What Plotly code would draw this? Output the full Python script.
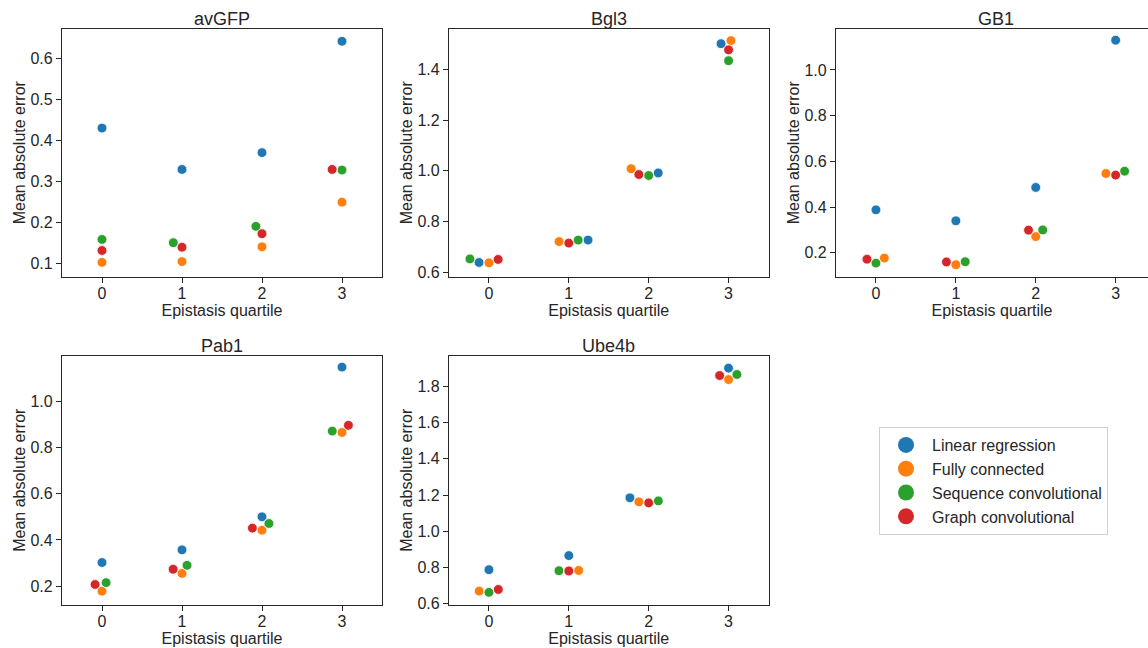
import numpy as np
import plotly.graph_objects as go

# Mean absolute error per epistasis quartile, for each protein dataset and model
quartiles = [0, 1, 2, 3]
models = ["Linear regression", "Fully connected", "Sequence convolutional", "Graph convolutional"]
colors = ["#1f77b4", "#ff7f0e", "#2ca02c", "#d62728"]

avgfp_lr = [0.430, 0.329, 0.370, 0.642]
avgfp_fc = [0.102, 0.104, 0.140, 0.249]
avgfp_sc = [0.158, 0.150, 0.190, 0.3275]
avgfp_gc = [0.131, 0.139, 0.172, 0.329]

bgl3_lr = [0.638, 0.7265, 0.991, 1.501]
bgl3_fc = [0.6366, 0.7204, 1.008, 1.513]
bgl3_sc = [0.652, 0.7263, 0.981, 1.434]
bgl3_gc = [0.650, 0.7145, 0.985, 1.477]

gb1_lr = [0.388, 0.340, 0.486, 1.130]
gb1_fc = [0.177, 0.148, 0.271, 0.547]
gb1_sc = [0.155, 0.161, 0.300, 0.557]
gb1_gc = [0.172, 0.160, 0.299, 0.540]

pab1_lr = [0.302, 0.357, 0.500, 1.148]
pab1_fc = [0.178, 0.255, 0.442, 0.865]
pab1_sc = [0.215, 0.290, 0.471, 0.871]
pab1_gc = [0.207, 0.273, 0.451, 0.896]

ube4b_lr = [0.788, 0.866, 1.185, 1.901]
ube4b_fc = [0.670, 0.784, 1.163, 1.838]
ube4b_sc = [0.663, 0.7825, 1.168, 1.866]
ube4b_gc = [0.679, 0.781, 1.157, 1.860]

panels = [
    ("avGFP", [avgfp_lr, avgfp_fc, avgfp_sc, avgfp_gc], [0.0675, 0.672], 0.1),
    ("Bgl3", [bgl3_lr, bgl3_fc, bgl3_sc, bgl3_gc], [0.5827, 1.559], 0.2),
    ("GB1", [gb1_lr, gb1_fc, gb1_sc, gb1_gc], [0.0964, 1.179], 0.2),
    ("Pab1", [pab1_lr, pab1_fc, pab1_sc, pab1_gc], [0.1204, 1.196], 0.2),
    ("Ube4b", [ube4b_lr, ube4b_fc, ube4b_sc, ube4b_gc], [0.596, 1.968], 0.2),
]

W, H = 1148, 648
# axes boxes in pixels: (left, right, top, bottom)
boxes = [
    (62, 382, 29, 276.5),
    (449, 768.5, 29, 276.5),
    (836, 1148, 29, 276.5),
    (62, 382, 356, 604.5),
    (449, 768.5, 356, 604.5),
]
xranges = [[-0.5, 3.5], [-0.5, 3.5], [-0.5, 3.405], [-0.5, 3.5], [-0.5, 3.5]]

MARKER_D = 9.4  # swarm collision diameter in pixels


def beeswarm(ys_px, d):
    """Seaborn-style beeswarm: returns horizontal pixel offsets."""
    n = len(ys_px)
    order = np.argsort(ys_px, kind="stable")
    placed = []  # list of (x, y)
    offs = np.zeros(n)
    for i in order:
        y = ys_px[i]
        neigh = [(px, py) for px, py in placed if abs(y - py) < d]
        cands = [0.0]
        left_first = True
        for px, py in neigh:
            dy = y - py
            dx = np.sqrt(max(d * d - dy * dy, 0)) * 1.05
            pair = [px - dx, px + dx] if left_first else [px + dx, px - dx]
            cands.extend(pair)
            left_first = not left_first
        cands = np.array(cands)
        cands = cands[np.argsort(np.abs(cands), kind="stable")]
        chosen = cands[-1]
        for c in cands:
            ok = all((c - px) ** 2 + (y - py) ** 2 >= d * d for px, py in neigh)
            if ok:
                chosen = c
                break
        offs[i] = chosen
        placed.append((chosen, y))
    return offs


fig = go.Figure()
font = "Liberation Sans, Arial, sans-serif"
ink = "#262626"
annotations = []

for k, (name, series, yr, dt) in enumerate(panels):
    left, right, top, bottom = boxes[k]
    xr = xranges[k]
    xs_scale = (right - left) / (xr[1] - xr[0])
    ys_scale = (bottom - top) / (yr[1] - yr[0])
    vals = np.array(series)  # shape (models, quartiles)
    xpos = np.zeros_like(vals, dtype=float)
    for q in range(len(quartiles)):
        offs = beeswarm(vals[:, q] * ys_scale, MARKER_D)
        xpos[:, q] = quartiles[q] + offs / xs_scale
    sfx = "" if k == 0 else str(k + 1)
    for m in range(len(models)):
        fig.add_trace(go.Scatter(
            x=xpos[m], y=vals[m], mode="markers",
            marker=dict(size=9.8, color=colors[m], line=dict(color="white", width=0.8)),
            xaxis="x" + sfx, yaxis="y" + sfx, showlegend=False, hoverinfo="skip",
        ))
    xd = [left / W, min(right / W, 1.0)]
    yd = [1 - bottom / H, 1 - top / H]
    is_cut = right >= W
    fig.update_layout(**{
        "xaxis" + sfx: dict(
            domain=xd, range=xr, anchor="y" + sfx, tickvals=quartiles,
            ticktext=[str(q) for q in quartiles], automargin=False,
            showline=True, linecolor=ink, linewidth=1.2, mirror=True,
            ticks="outside", ticklen=5, tickwidth=1.1, tickcolor=ink,
            ticklabelstandoff=-3,
            showgrid=False, zeroline=False,
            tickfont=dict(family=font, size=16, color=ink),
            title=dict(text="Epistasis quartile", font=dict(family=font, size=16, color=ink), standoff=2),
        ),
        "yaxis" + sfx: dict(
            domain=yd, range=yr, anchor="x" + sfx, dtick=dt, tick0=0, tickformat=".1f",
            automargin=False,
            showline=True, linecolor=ink, linewidth=1.2, mirror=not is_cut,
            ticks="outside", ticklen=5, tickwidth=1.1, tickcolor=ink,
            showgrid=False, zeroline=False,
            tickfont=dict(family=font, size=16, color=ink),
            title=dict(text="Mean absolute error", font=dict(family=font, size=16, color=ink), standoff=0),
        ),
    })
    annotations.append(dict(
        text=name, xref="paper", yref="paper", x=(left + right if not is_cut else left + left + 319) / 2 / W,
        y=1 - (top - 10) / H, xanchor="center", yanchor="middle", showarrow=False,
        font=dict(family=font, size=18, color=ink),
    ))

# legend entries
for m in range(len(models)):
    fig.add_trace(go.Scatter(
        x=[None], y=[None], mode="markers", name=models[m],
        marker=dict(size=18, color=colors[m]), xaxis="x", yaxis="y", showlegend=True,
    ))

fig.update_layout(
    width=W, height=H, margin=dict(l=0, r=0, t=0, b=0, autoexpand=False),
    paper_bgcolor="white", plot_bgcolor="white",
    annotations=annotations,
    legend=dict(
        x=879 / W, y=1 - 427 / H, xanchor="left", yanchor="top",
        bordercolor="#d0d0d0", borderwidth=1, bgcolor="white",
        font=dict(family=font, size=16, color=ink), itemwidth=42, tracegroupgap=0,
    ),
)

fig.write_html("out.html")
